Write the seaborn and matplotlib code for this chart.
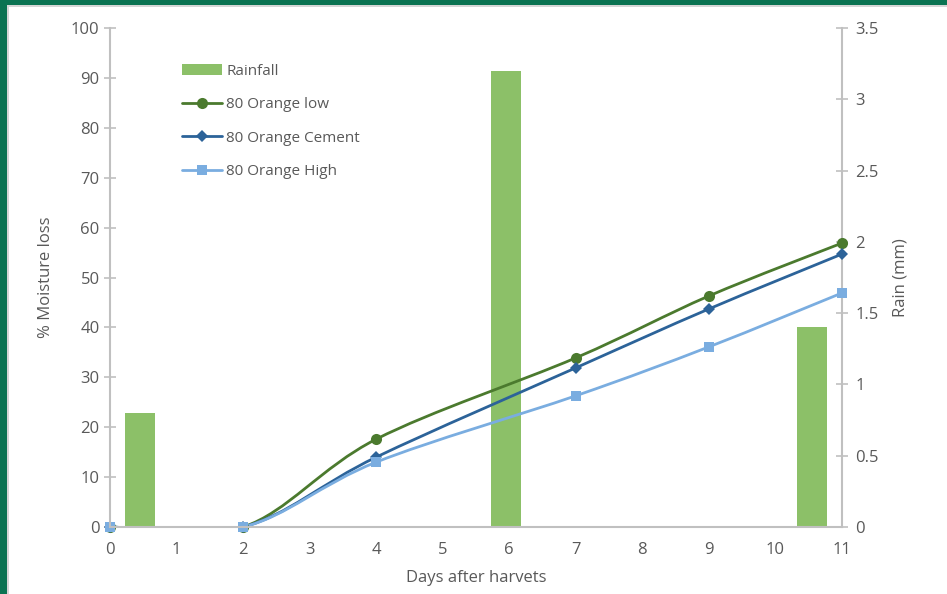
import numpy as np
import pandas as pd
import matplotlib
matplotlib.use("Agg")
import matplotlib.pyplot as plt
from matplotlib.path import Path
from matplotlib.patches import PathPatch, Rectangle, Patch
from matplotlib.lines import Line2D
from matplotlib.ticker import FuncFormatter
import seaborn as sns

# ---- data ----
days = [0, 2, 4, 7, 9, 11]
orange_low = [0, 0, 17.6, 33.9, 46.3, 56.9]
orange_cement = [0, 0, 14.0, 31.9, 43.7, 54.7]
orange_high = [0, 0, 13.0, 26.3, 36.1, 46.9]

rain_days = [0.45, 5.95, 10.55]
rain_mm = [0.8, 3.2, 1.4]

x_ticks = list(range(0, 12))
y_ticks = list(range(0, 101, 10))
rain_ticks = [0, 0.5, 1, 1.5, 2, 2.5, 3, 3.5]

series_names = ["80 Orange low", "80 Orange Cement", "80 Orange High"]
series_values = [orange_low, orange_cement, orange_high]
series_colors = ["#4B7A2E", "#2C6399", "#7AADE0"]
series_markers = ["o", "D", "s"]
series_msize = [8.0, 6.0, 7.5]
bar_color = "#8CC068"
text_color = "#595959"
axis_color = "#C0C0C0"

sns.set_theme(style="white")
plt.rcParams["font.family"] = ["Open Sans", "DejaVu Sans"]
plt.rcParams["text.color"] = text_color
plt.rcParams["axes.labelcolor"] = text_color
plt.rcParams["xtick.color"] = text_color
plt.rcParams["ytick.color"] = text_color

W, H = 947, 594
fig = plt.figure(figsize=(W / 100, H / 100), dpi=100)
fig.patch.set_facecolor("white")

# frame around the chart
fig.add_artist(Rectangle((0, 1 - 5 / H), 1, 5 / H, transform=fig.transFigure,
                         facecolor="#0B7352", edgecolor="none"))
fig.add_artist(Rectangle((0, 1 - 7 / H), 1, 2 / H, transform=fig.transFigure,
                         facecolor="#D6D6D6", edgecolor="none"))
fig.add_artist(Rectangle((0, 0), 7 / W, 1, transform=fig.transFigure,
                         facecolor="#0B7352", edgecolor="none"))
fig.add_artist(Rectangle((7 / W, 0), 2 / W, 1 - 5 / H, transform=fig.transFigure,
                         facecolor="#D6D6D6", edgecolor="none"))

left, right, bottom, top = 110, 842, 527, 28
ax = fig.add_axes([left / W, 1 - bottom / H, (right - left) / W, (bottom - top) / H])
ax2 = ax.twinx()

# rainfall bars on the secondary axis
rain_df = pd.DataFrame({"day": rain_days, "rain": rain_mm})
bar_w = 0.46
min_gap = np.min(np.diff(sorted(rain_days)))
sns.barplot(data=rain_df, x="day", y="rain", ax=ax2, native_scale=True,
            width=bar_w / min_gap, color=bar_color, saturation=1, linewidth=0,
            errorbar=None)

# moisture loss lines drawn above the bars
ax.set_zorder(ax2.get_zorder() + 1)
ax.patch.set_visible(False)


def smooth_path(xs, ys):
    pts = np.column_stack([xs, ys]).astype(float)
    n = len(pts)
    verts = [pts[0]]
    codes = [Path.MOVETO]
    for i in range(n - 1):
        p0 = pts[i - 1] if i > 0 else pts[i]
        p1 = pts[i]
        p2 = pts[i + 1]
        p3 = pts[i + 2] if i + 2 < n else pts[i + 1]
        c1 = p1 + (p2 - p0) / 6.0
        c2 = p2 - (p3 - p1) / 6.0
        verts += [c1, c2, p2]
        codes += [Path.CURVE4] * 3
    return Path(verts, codes)


ax.set_xlim(0, 11)
ax.set_ylim(0, 100)

handles = [Patch(facecolor=bar_color, edgecolor="none", label="Rainfall")]
for name, vals, col, mk, ms in zip(series_names, series_values, series_colors,
                                   series_markers, series_msize):
    curve = PathPatch(smooth_path(days, vals), facecolor="none",
                      edgecolor=col, lw=2.0, transform=ax.transData,
                      capstyle="round", joinstyle="round")
    ax.add_patch(curve)
    df = pd.DataFrame({"day": days, "val": vals})
    sns.lineplot(data=df, x="day", y="val", ax=ax, color=col, marker=mk,
                 markersize=ms, markeredgewidth=0, linestyle="none",
                 markerfacecolor=col, clip_on=False)
    handles.append(Line2D([], [], color=col, lw=2.0, marker=mk, markersize=ms,
                          markeredgewidth=0, label=name))

ax.set_xlim(0, 11)
ax.set_ylim(0, 100)
ax.set_xticks(x_ticks)
ax.set_yticks(y_ticks)
ax2.set_ylim(0, 3.5)
ax2.set_yticks(rain_ticks)
ax2.yaxis.set_major_formatter(FuncFormatter(lambda v, p: f"{v:g}"))
ax2.set_xlim(0, 11)

for a in (ax, ax2):
    for s in a.spines.values():
        s.set_visible(False)
ax.spines["left"].set_visible(True)
ax.spines["bottom"].set_visible(True)
ax2.spines["right"].set_visible(True)
for s in (ax.spines["left"], ax.spines["bottom"], ax2.spines["right"]):
    s.set_color(axis_color)
    s.set_linewidth(1.5)

ax.tick_params(axis="both", direction="inout", length=9, width=1.2,
               color=axis_color, labelsize=12, labelcolor=text_color, pad=3)
ax.tick_params(axis="x", pad=6)
ax2.tick_params(axis="y", direction="inout", length=9, width=1.2,
                color=axis_color, labelsize=12, labelcolor=text_color, pad=5)
ax.grid(False)
ax2.grid(False)

ax.set_xlabel("Days after harvets", fontsize=12, color=text_color, labelpad=9)
ax.set_ylabel("% Moisture loss", fontsize=12, color=text_color, labelpad=12)
ax2.set_ylabel("Rain (mm)", fontsize=12, color=text_color, labelpad=10)

leg = ax.legend(handles=handles, loc="upper left",
                bbox_to_anchor=(182 / W, 1 - 64 / H), bbox_transform=fig.transFigure,
                frameon=False, fontsize=11, handlelength=2.6, handletextpad=0.3,
                labelspacing=1.2, borderpad=0, borderaxespad=0)
for t in leg.get_texts():
    t.set_color(text_color)

fig.savefig("out.png", dpi=100, facecolor="white")
